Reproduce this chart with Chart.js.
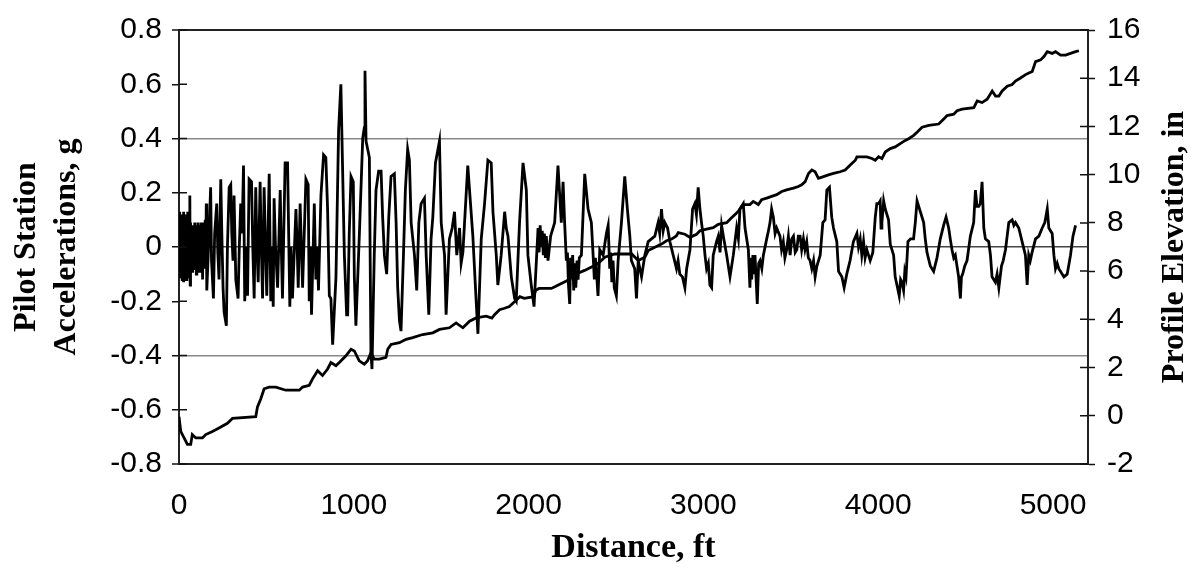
<!DOCTYPE html>
<html lang="en">
<head>
    <meta charset="UTF-8">
    <title>Pilot Station Accelerations and Profile Elevation</title>
    <script src="https://cdn.jsdelivr.net/npm/chart.js"></script>
    <style>
        body {
            margin: 0;
            background: #fff;
        }
        #wrap {
            width: 1199px;
            height: 576px;
        }
    </style>
</head>
<body>
    <div id="wrap"><canvas id="accelChart"></canvas></div>

    <script>
        // [distance ft, acceleration g]
        const accelSamples = [
            [0,0.12],[3,-0.09],[5,0.13],[8,-0.11],[10,0.10],[13,-0.08],[15,0.12],[18,-0.12],[20,0.11],[23,-0.06],
            [25,0.13],[28,-0.13],[30,0.09],[33,-0.10],[35,0.12],[38,-0.07],[40,0.11],[43,-0.12],[45,0.10],[48,-0.09],
            [50,0.13],[53,-0.11],[56,0.08],[59,-0.10],[62,0.19],[64,-0.14],[66,0.09],[69,-0.06],[72,0.08],[75,-0.09],
            [78,0.07],[81,-0.05],[84,0.08],[87,-0.08],[90,0.09],[93,-0.07],[96,0.06],[99,-0.10],[102,0.08],[105,-0.06],
            [108,0.09],[111,-0.08],[114,0.07],[117,-0.09],[120,0.08],[123,-0.05],[126,0.09],[129,-0.07],[132,0.06],[135,-0.12],
            [138,0.08],[141,-0.06],[144,0.09],[147,-0.08],[150,0.10],[153,-0.05],[156,0.16],[159,-0.16],
            [172,0.05],[181,0.22],[186,-0.05],[197,-0.19],[204,0.05],[216,0.16],[222,-0.02],[229,-0.12],[239,0.25],[245,0.05],
            [252,-0.15],[258,-0.24],[271,-0.29],[277,0.0],[287,0.22],[296,0.23],[302,0.05],[309,-0.05],[315,0.19],[325,-0.12],
            [338,-0.19],[345,0.0],[353,0.16],[361,0.05],[369,0.30],[376,-0.20],[385,0.0],[392,-0.18],[401,0.25],[415,0.24],
            [422,0.0],[430,-0.19],[439,0.22],[446,0.0],[453,-0.13],[464,0.24],[471,0.0],[478,-0.19],[487,0.22],[495,0.0],
            [502,-0.18],[516,0.27],[525,-0.20],[532,0.0],[539,-0.22],[544,0.18],[552,0.0],[564,-0.15],[579,0.21],[585,0.0],
            [592,-0.19],[607,0.31],[621,0.31],[634,-0.22],[641,0.0],[649,-0.19],[669,0.14],[676,0.0],[682,-0.15],[693,0.16],
            [700,0.0],[707,-0.15],[726,0.25],[739,0.23],[745,-0.20],[752,0.0],[758,-0.25],[774,0.16],[783,-0.12],[790,0.0],
            [798,-0.16],[812,0.19],[827,0.34],[840,0.33],[850,0.14],[860,-0.18],[869,-0.19],[879,-0.36],
            [898,-0.11],[913,0.43],[926,0.60],[932,0.41],[946,-0.03],[959,-0.25],[965,-0.25],[974,0.05],[984,0.26],[997,0.24],
            [1003,-0.11],[1012,-0.29],[1032,0.05],[1051,0.40],[1060,0.44],[1064,0.65],[1070,0.39],[1089,0.33],[1098,-0.39],[1104,-0.45],
            [1117,-0.03],[1127,0.21],[1142,0.28],[1156,0.28],[1165,0.11],[1175,-0.03],[1188,-0.10],[1200,0.11],[1213,0.26],[1232,0.27],
            [1242,0.09],[1251,-0.15],[1261,-0.27],[1270,-0.31],[1284,-0.03],[1295,0.21],[1308,0.36],[1318,0.32],[1328,0.09],[1347,-0.03],
            [1360,-0.16],[1372,0.09],[1385,0.16],[1404,0.18],[1414,-0.03],[1429,-0.25],[1442,0.03],[1452,0.11],[1467,0.31],[1490,0.39],
            [1500,0.09],[1519,-0.03],[1528,-0.25],[1547,0.03],[1563,0.07],[1576,0.13],[1589,-0.03],[1605,0.07],[1614,-0.06],[1624,-0.02],
            [1652,0.30],[1681,0.04],[1700,-0.20],[1710,-0.32],[1729,0.03],[1748,0.16],[1767,0.32],
            [1786,0.31],[1796,0.13],[1815,-0.03],[1824,-0.14],[1843,-0.03],[1863,0.13],[1872,0.07],[1882,0.04],[1901,-0.11],[1920,-0.19],
            [1929,-0.20],[1948,0.09],[1968,0.31],[1987,0.21],[1996,-0.03],[2015,-0.14],[2031,-0.22],[2054,0.07],[2060,-0.02],[2066,0.08],
            [2072,0.0],[2078,0.06],[2084,-0.03],[2090,0.05],[2096,-0.04],[2101,0.04],[2111,-0.05],[2126,0.04],[2149,0.09],[2168,0.30],
            [2178,0.19],[2187,0.09],[2197,0.24],[2206,0.09],[2216,-0.05],[2222,-0.02],[2228,-0.14],[2235,-0.21],[2240,-0.04],[2245,-0.12],
            [2252,-0.03],[2258,-0.16],[2264,-0.06],[2270,-0.15],[2277,-0.05],[2283,-0.12],[2290,-0.04],[2302,-0.03],[2321,0.27],[2340,0.14],
            [2359,0.09],[2369,-0.03],[2376,-0.12],[2382,-0.04],[2388,-0.09],[2397,-0.18],[2407,-0.01],[2426,-0.03],[2445,0.05],[2455,0.08],
            [2464,-0.08],[2470,-0.02],[2476,-0.13],[2483,-0.05],[2490,-0.15],[2502,-0.18],[2512,-0.05],[2531,0.09],[2550,0.26],[2565,0.14],
            [2579,0.04],[2588,-0.05],[2607,-0.08],[2617,-0.19],[2627,-0.05],[2646,-0.11],[2665,-0.03],[2684,0.02],[2703,0.03],[2722,0.04],
            [2741,0.09],[2750,0.05],[2760,0.14],[2770,0.06],[2779,0.09],[2795,0.07],[2808,0.02],[2827,-0.03],[2846,-0.08],[2855,-0.05],
            [2865,-0.10],[2880,-0.11],[2894,-0.15],[2904,-0.08],[2923,-0.01],[2938,0.14],[2951,0.16],[2960,0.12],[2970,0.22],[2980,0.14],
            [2989,0.09],[2999,0.04],[3009,-0.03],[3018,-0.08],[3028,-0.06],[3037,-0.14],[3047,-0.15],[3056,-0.03],[3075,0.02],[3085,0.04],
            [3095,-0.02],[3104,0.08],[3114,0.04],[3133,-0.03],[3152,-0.11],[3171,-0.03],[3190,0.07],[3200,0.03],[3209,0.14],[3228,0.16],
            [3238,0.07],[3257,-0.01],[3266,-0.15],[3271,-0.04],[3276,-0.12],[3283,-0.03],[3289,-0.10],[3295,-0.03],[3308,-0.21],[3316,-0.06],
            [3324,-0.05],[3334,-0.08],[3343,-0.03],[3362,0.03],[3372,0.06],[3381,0.09],[3390,0.14],[3400,0.11],[3410,0.05],[3419,0.07],
            [3438,0.04],[3447,-0.01],[3457,0.02],[3466,-0.04],[3476,-0.01],[3486,0.04],[3496,-0.03],[3505,0.03],[3515,0.04],[3525,-0.02],
            [3534,-0.01],[3543,0.04],[3553,0.04],[3562,-0.01],[3572,0.03],[3581,-0.01],[3591,0.02],[3600,-0.04],[3610,-0.05],[3620,-0.08],
            [3630,-0.05],[3639,-0.11],[3649,-0.07],[3668,-0.03],[3683,0.09],[3696,0.10],[3706,0.21],[3721,0.22],[3734,0.11],[3744,0.07],
            [3763,0.02],[3773,-0.09],[3792,-0.11],[3805,-0.15],[3820,-0.10],[3839,-0.05],[3858,0.02],[3878,0.05],[3887,0.00],[3897,0.03],
            [3906,-0.03],[3916,0.02],[3925,-0.04],[3935,-0.01],[3954,-0.05],[3969,-0.02],[3983,0.11],[3992,0.16],[4002,0.16],[4011,0.17],
            [4016,0.07],[4021,0.09],[4031,0.17],[4040,0.14],[4059,0.10],[4069,0.01],[4088,-0.03],[4097,-0.11],[4107,-0.14],[4120,-0.18],
            [4128,-0.12],[4136,-0.13],[4145,-0.16],[4152,-0.09],[4159,-0.11],[4170,0.02],[4185,0.03],[4202,0.03],[4212,0.09],[4222,0.17],
            [4241,0.13],[4260,0.09],[4269,0.03],[4279,-0.02],[4298,-0.07],[4317,-0.09],[4336,-0.04],[4355,0.03],[4374,0.08],[4388,0.11],
            [4403,0.07],[4412,0.03],[4422,-0.01],[4432,-0.04],[4441,-0.03],[4460,-0.11],[4470,-0.19],[4476,-0.11],[4483,-0.10],[4495,-0.07],
            [4508,-0.05],[4527,0.04],[4546,0.09],[4556,0.21],[4565,0.15],[4575,0.15],[4584,0.16],[4594,0.24],[4604,0.07],[4613,0.03],
            [4632,0.02],[4642,-0.03],[4651,-0.11],[4670,-0.13],[4680,-0.10],[4690,-0.15],[4705,-0.07],[4715,-0.05],[4728,-0.01],[4747,0.09],
            [4766,0.10],[4776,0.08],[4785,0.09],[4804,0.07],[4823,0.02],[4842,-0.03],[4852,-0.14],[4861,-0.03],[4870,-0.05],[4880,-0.02],
            [4900,0.03],[4919,0.04],[4938,0.07],[4953,0.09],[4967,0.14],[4976,0.07],[4995,0.05],[5005,-0.03],[5014,-0.08],[5024,-0.06],
            [5033,-0.08],[5043,-0.09],[5052,-0.10],[5062,-0.11],[5081,-0.10],[5100,-0.03],[5114,0.04],[5129,0.08]
        ];

        // [distance ft, profile elevation in]
        const elevSamples = [
            [0,-0.04],[10,-0.65],[29,-0.92],[48,-1.19],[67,-1.19],[76,-0.78],[96,-0.92],[134,-0.92],[153,-0.78],[191,-0.65],
            [229,-0.51],[277,-0.31],[306,-0.11],[439,-0.04],[449,0.37],[468,0.71],[487,1.12],[516,1.19],[554,1.19],[611,1.06],
            [688,1.06],[707,1.19],[745,1.26],[764,1.53],[793,1.87],[821,1.67],[850,1.94],[869,2.21],[898,2.08],[917,2.21],
            [955,2.49],[984,2.76],[1003,2.69],[1031,2.28],[1060,2.14],[1079,2.28],[1098,2.62],[1117,2.35],[1146,2.35],[1184,2.42],
            [1194,2.76],[1213,2.96],[1261,3.03],[1299,3.17],[1337,3.24],[1394,3.37],[1452,3.44],[1490,3.58],[1547,3.65],[1585,3.85],
            [1624,3.65],[1662,3.92],[1700,4.06],[1757,4.13],[1790,4.05],[1805,4.19],[1834,4.40],[1862,4.46],[1890,4.53],[1910,4.67],
            [1930,4.80],[1950,4.94],[1975,4.87],[2030,4.94],[2040,5.21],[2060,5.28],[2130,5.28],[2150,5.35],[2187,5.49],[2225,5.62],
            [2245,5.76],[2275,5.89],[2320,6.03],[2360,6.17],[2395,6.30],[2436,6.58],[2493,6.71],[2590,6.71],[2627,6.44],[2665,6.58],
            [2684,6.85],[2722,6.99],[2760,7.12],[2789,7.26],[2818,7.33],[2845,7.46],[2856,7.60],[2894,7.53],[2923,7.40],[2961,7.53],
            [2980,7.67],[3018,7.74],[3056,7.80],[3085,7.94],[3133,8.01],[3161,8.21],[3181,8.35],[3200,8.48],[3219,8.69],[3238,8.76],
            [3266,8.76],[3285,8.89],[3314,8.76],[3333,8.96],[3362,9.03],[3390,9.10],[3419,9.17],[3448,9.30],[3476,9.37],[3515,9.44],
            [3543,9.51],[3562,9.58],[3582,9.71],[3601,10.05],[3620,10.19],[3639,10.12],[3658,9.85],[3687,9.92],[3715,9.99],[3744,10.05],
            [3782,10.12],[3811,10.19],[3840,10.40],[3869,10.60],[3878,10.74],[3935,10.74],[3964,10.67],[3983,10.60],[4002,10.74],[4021,10.67],
            [4040,10.94],[4069,11.08],[4097,11.15],[4126,11.29],[4155,11.42],[4174,11.49],[4203,11.63],[4222,11.76],[4251,11.97],[4289,12.04],
            [4346,12.10],[4375,12.31],[4394,12.45],[4432,12.51],[4451,12.65],[4480,12.72],[4547,12.78],[4566,13.06],[4594,12.99],[4623,13.13],
            [4652,13.47],[4671,13.26],[4690,13.26],[4709,13.47],[4738,13.67],[4766,13.74],[4785,13.88],[4814,14.01],[4843,14.15],[4862,14.22],
            [4881,14.28],[4900,14.69],[4929,14.76],[4948,14.90],[4967,15.10],[4995,15.03],[5014,15.10],[5043,14.96],[5072,14.96],[5100,15.03],
            [5129,15.10],[5148,15.14]
        ];

        const distTicks = [0, 1000, 2000, 3000, 4000, 5000];
        const xTitle = 'Distance, ft';
        const leftTitle = ['Pilot Station', 'Accelerations, g'];
        const rightTitle = 'Profile Elevation, in';

        const tickFont = { family: '"Liberation Sans", Arial, sans-serif', size: 30 };
        const titleFont = { family: '"Liberation Serif", "Times New Roman", serif', size: 32, weight: 'bold', lineHeight: 1.25 };

        // short tick marks inside the frame + right axis title (reads bottom to top)
        const frameExtras = {
            id: 'frameExtras',
            afterDraw(chart) {
                const { ctx, chartArea: a, scales } = chart;
                ctx.save();
                ctx.strokeStyle = '#111';
                ctx.lineWidth = 1.5;
                ctx.beginPath();
                scales.y.ticks.forEach(t => {
                    const py = scales.y.getPixelForValue(t.value);
                    ctx.moveTo(a.left, py);
                    ctx.lineTo(a.left + 8, py);
                });
                scales.y2.ticks.forEach(t => {
                    const py = scales.y2.getPixelForValue(t.value);
                    ctx.moveTo(a.right - 8, py);
                    ctx.lineTo(a.right, py);
                });
                ctx.stroke();

                ctx.translate(1175, (a.top + a.bottom) / 2);
                ctx.rotate(-Math.PI / 2);
                ctx.font = 'bold 32px "Liberation Serif", "Times New Roman", serif';
                ctx.fillStyle = '#000';
                ctx.textAlign = 'center';
                ctx.textBaseline = 'middle';
                ctx.fillText(rightTitle, 0, 0);
                ctx.restore();
            }
        };

        const ctx = document.getElementById('accelChart').getContext('2d');
        new Chart(ctx, {
            type: 'line',
            data: {
                datasets: [
                    {
                        label: 'Pilot Station Accelerations, g',
                        data: accelSamples.map(p => ({ x: p[0], y: p[1] })),
                        yAxisID: 'y',
                        borderColor: '#000',
                        borderWidth: 2.8,
                        pointRadius: 0,
                        tension: 0
                    },
                    {
                        label: 'Profile Elevation, in',
                        data: elevSamples.map(p => ({ x: p[0], y: p[1] })),
                        yAxisID: 'y2',
                        borderColor: '#000',
                        borderWidth: 2.8,
                        pointRadius: 0,
                        tension: 0
                    }
                ]
            },
            options: {
                responsive: true,
                maintainAspectRatio: false,
                animation: false,
                devicePixelRatio: 1,
                layout: { padding: { top: 23, left: 0, right: 0, bottom: 0 } },
                plugins: {
                    legend: { display: false },
                    tooltip: { enabled: false }
                },
                scales: {
                    x: {
                        type: 'linear',
                        min: 0,
                        max: 5200,
                        afterFit: s => { s.height = 112; },
                        afterBuildTicks: s => { s.ticks = distTicks.map(v => ({ value: v })); },
                        border: { color: '#222', width: 2 },
                        grid: { drawOnChartArea: false, drawTicks: false },
                        ticks: {
                            padding: 24,
                            color: '#000',
                            font: tickFont,
                            maxRotation: 0,
                            autoSkip: false,
                            callback: v => String(v)
                        },
                        title: {
                            display: true,
                            text: xTitle,
                            color: '#000',
                            font: { ...titleFont, size: 34 },
                            padding: { top: 0, bottom: 7 }
                        }
                    },
                    y: {
                        position: 'left',
                        min: -0.8,
                        max: 0.8,
                        afterFit: s => { s.width = 179; },
                        border: { color: '#222', width: 2 },
                        grid: {
                            color: c => {
                                const v = Math.round(c.tick.value * 10) / 10;
                                if (Math.abs(v) === 0.8) return '#222';
                                if (Math.abs(v) === 0.4) return '#888';
                                if (v === 0) return '#444';
                                return 'rgba(0,0,0,0)';
                            },
                            lineWidth: c => (Math.abs(Math.round(c.tick.value * 10) / 10) === 0.8 ? 2 : 1.5),
                            tickColor: '#111',
                            tickLength: 7,
                            tickWidth: 1.5
                        },
                        ticks: {
                            stepSize: 0.2,
                            padding: 10,
                            color: '#000',
                            font: tickFont,
                            callback: v => (Math.abs(v) < 1e-9 ? '0' : v.toFixed(1))
                        },
                        title: {
                            display: true,
                            text: leftTitle,
                            color: '#000',
                            font: titleFont,
                            padding: { top: 7, bottom: 0 }
                        }
                    },
                    y2: {
                        position: 'right',
                        min: -2,
                        max: 16,
                        afterFit: s => { s.width = 111; },
                        border: { color: '#222', width: 2 },
                        grid: {
                            drawOnChartArea: false,
                            tickColor: '#111',
                            tickLength: 7,
                            tickWidth: 1.5
                        },
                        ticks: {
                            stepSize: 2,
                            padding: 12,
                            color: '#000',
                            font: tickFont
                        }
                    }
                }
            },
            plugins: [frameExtras]
        });
    </script>
</body>
</html>
